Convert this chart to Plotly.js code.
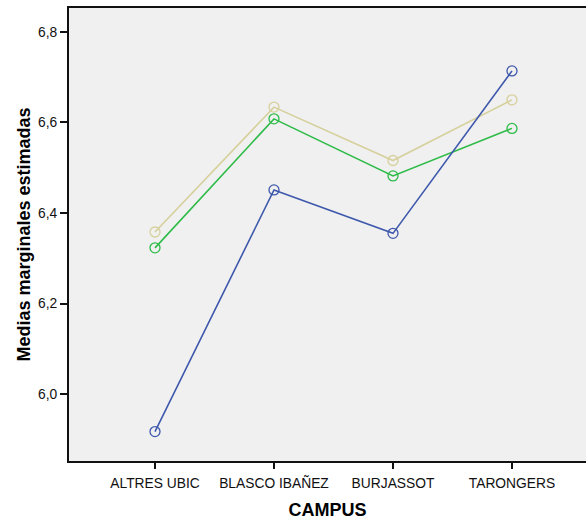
<!DOCTYPE html>
<html>
<head>
<meta charset="utf-8">
<script src="https://cdn.plot.ly/plotly-3.0.1.min.js"></script>
<style>html,body{margin:0;padding:0;background:#fff;}#chart{width:586px;height:520px;}</style>
</head>
<body>
<div id="chart"></div>
<script>
const campus = ["ALTRES UBIC", "BLASCO IBAÑEZ", "BURJASSOT", "TARONGERS"];
const serieAzul = [5.917, 6.451, 6.355, 6.714];
const serieVerde = [6.323, 6.608, 6.482, 6.587];
const serieBeige = [6.358, 6.634, 6.516, 6.650];
const yTicks = [6.0, 6.2, 6.4, 6.6, 6.8];

function mk(y, color) {
  return {
    x: campus, y: y, type: "scatter", mode: "lines+markers",
    line: {color: color, width: 1.6},
    marker: {symbol: "circle-open", size: 10, color: color, line: {width: 1.3, color: color}},
    hoverinfo: "skip"
  };
}
const data = [mk(serieBeige, "#d6d09c"), mk(serieVerde, "#2ebb48"), mk(serieAzul, "#3e58ac")];
const layout = {
  width: 586, height: 520,
  margin: {l: 69, r: 0, t: 8, b: 59},
  paper_bgcolor: "#ffffff", plot_bgcolor: "#f0f0f0",
  showlegend: false,
  separators: ", ",
  font: {family: "Liberation Sans, Arial, sans-serif", color: "#000", size: 14},
  xaxis: {
    type: "category", range: [-0.7227, 3.622],
    showgrid: false, zeroline: false,
    showline: true, linecolor: "#111", linewidth: 2, mirror: true,
    ticks: "outside", ticklen: 6, tickwidth: 2, tickcolor: "#111",
    tickfont: {size: 13.8, color: "#111"}, ticklabelstandoff: 2,
    title: {text: "CAMPUS", font: {size: 18, color: "#000", weight: "bold"}, standoff: 15},
    automargin: false
  },
  yaxis: {
    range: [5.852, 6.853],
    tickvals: yTicks, tickformat: ".1f",
    showgrid: false, zeroline: false,
    showline: true, linecolor: "#111", linewidth: 2,
    ticks: "outside", ticklen: 7, tickwidth: 2, tickcolor: "#111",
    tickfont: {size: 13.8, color: "#111"},
    title: {text: "Medias marginales estimadas", font: {size: 18, color: "#000", weight: "bold"}, standoff: 3},
    automargin: false
  }
};
Plotly.newPlot("chart", data, layout, {displayModeBar: false, staticPlot: true});
</script>
</body>
</html>
